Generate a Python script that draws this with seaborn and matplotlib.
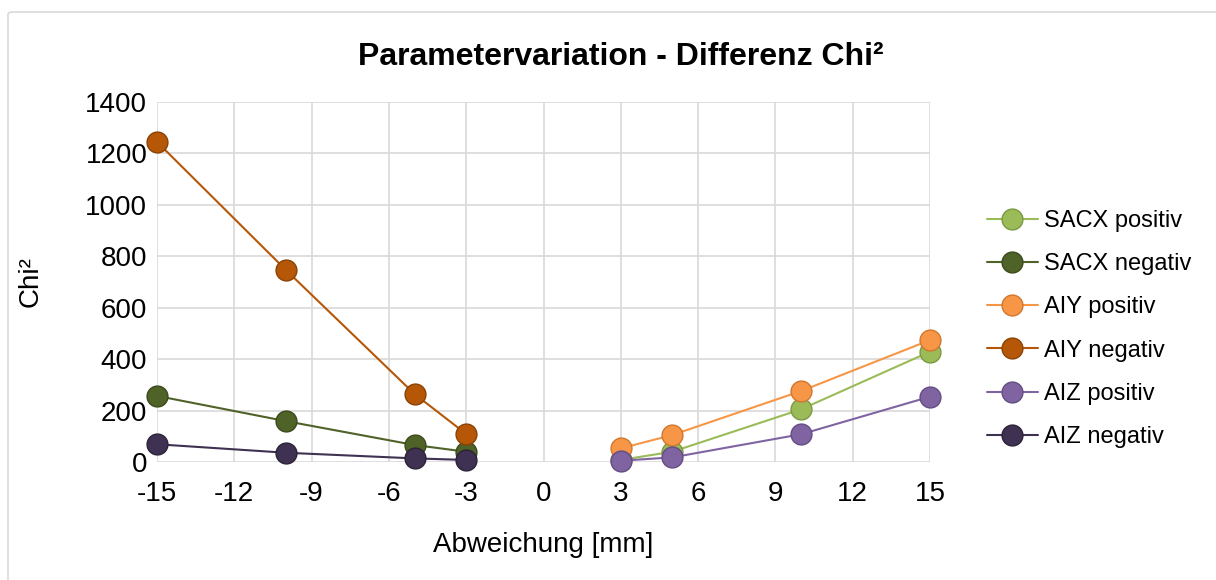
import matplotlib
matplotlib.use("Agg")
import matplotlib.pyplot as plt
import seaborn as sns
import pandas as pd
from matplotlib.patches import FancyBboxPatch

x_neg = [-15, -10, -5, -3]
x_pos = [3, 5, 10, 15]

sacx_pos = [8, 40, 205, 429]
sacx_neg = [257, 159, 66, 40]
aiy_pos = [53, 105, 276, 474]
aiy_neg = [1245, 747, 264, 109]
aiz_pos = [5, 18, 108, 254]
aiz_neg = [69, 36, 14, 8]

series = ["SACX positiv", "SACX negativ", "AIY positiv", "AIY negativ", "AIZ positiv", "AIZ negativ"]
colors = ["#9bbb59", "#4f6228", "#f79646", "#b65708", "#8064a2", "#3f3151"]
edge_colors = ["#7a9a40", "#3a4a1c", "#d0772e", "#8a4204", "#644c84", "#2c2238"]

data = {
    "SACX positiv": (x_pos, sacx_pos),
    "SACX negativ": (x_neg, sacx_neg),
    "AIY positiv": (x_pos, aiy_pos),
    "AIY negativ": (x_neg, aiy_neg),
    "AIZ positiv": (x_pos, aiz_pos),
    "AIZ negativ": (x_neg, aiz_neg),
}

rows = []
for s in series:
    xs, ys = data[s]
    for xv, yv in zip(xs, ys):
        rows.append({"x": xv, "y": yv, "series": s})
df = pd.DataFrame(rows)

sns.set_theme(style="white")
plt.rcParams["font.family"] = ["Liberation Sans", "DejaVu Sans"]
plt.rcParams["axes.unicode_minus"] = False
plt.rcParams["text.color"] = "black"
plt.rcParams["axes.labelcolor"] = "black"

fig = plt.figure(figsize=(12.16, 5.8), dpi=100)
ax = fig.add_axes([157 / 1216, 1 - 462 / 580, (930 - 157) / 1216, (462 - 102) / 580])

# chart border
border = FancyBboxPatch((8 / 1216, -0.1), 1.2, 1.1 - 12 / 580, boxstyle="round,pad=0,rounding_size=0.004",
                        transform=fig.transFigure, fill=False, edgecolor="#d9d9d9", linewidth=1.2, zorder=0)
fig.patches.append(border)

for s, c, ec in zip(series, colors, edge_colors):
    sub = df[df["series"] == s]
    sns.lineplot(data=sub, x="x", y="y", ax=ax, color=c, linewidth=1.5, marker="o",
                 markersize=15, markerfacecolor=c, markeredgecolor=ec, markeredgewidth=1.0,
                 label=s, zorder=3, sort=False, clip_on=False)

ax.set_xlim(-15, 15)
ax.set_ylim(0, 1400)
ax.set_xticks(range(-15, 16, 3))
ax.set_yticks(range(0, 1401, 200))
ax.grid(True, color="#d9d9d9", linewidth=1.2)
for sp in ax.spines.values():
    sp.set_visible(False)
ax.tick_params(axis="x", labelsize=20, length=0, pad=14, colors="#000000")
ax.tick_params(axis="y", labelsize=20, length=0, pad=7, colors="#000000")
ax.set_xlabel("Abweichung [mm]", fontsize=20, labelpad=18, color="black")
ax.set_ylabel("Chi²", fontsize=20, labelpad=30, color="black")

fig.text(621 / 1216, 1 - 57 / 580, "Parametervariation - Differenz Chi²",
         ha="center", va="center", fontsize=23, fontweight="bold", color="black")

leg = ax.legend(loc="upper left", bbox_to_anchor=(987 / 1216, 1 - 210 / 580),
                bbox_transform=fig.transFigure, frameon=False, fontsize=17,
                labelspacing=0.9, handlelength=2.15, handletextpad=0.25, borderaxespad=0,
                borderpad=0)
for t in leg.get_texts():
    t.set_color("black")

fig.savefig("out.png", dpi=100)
